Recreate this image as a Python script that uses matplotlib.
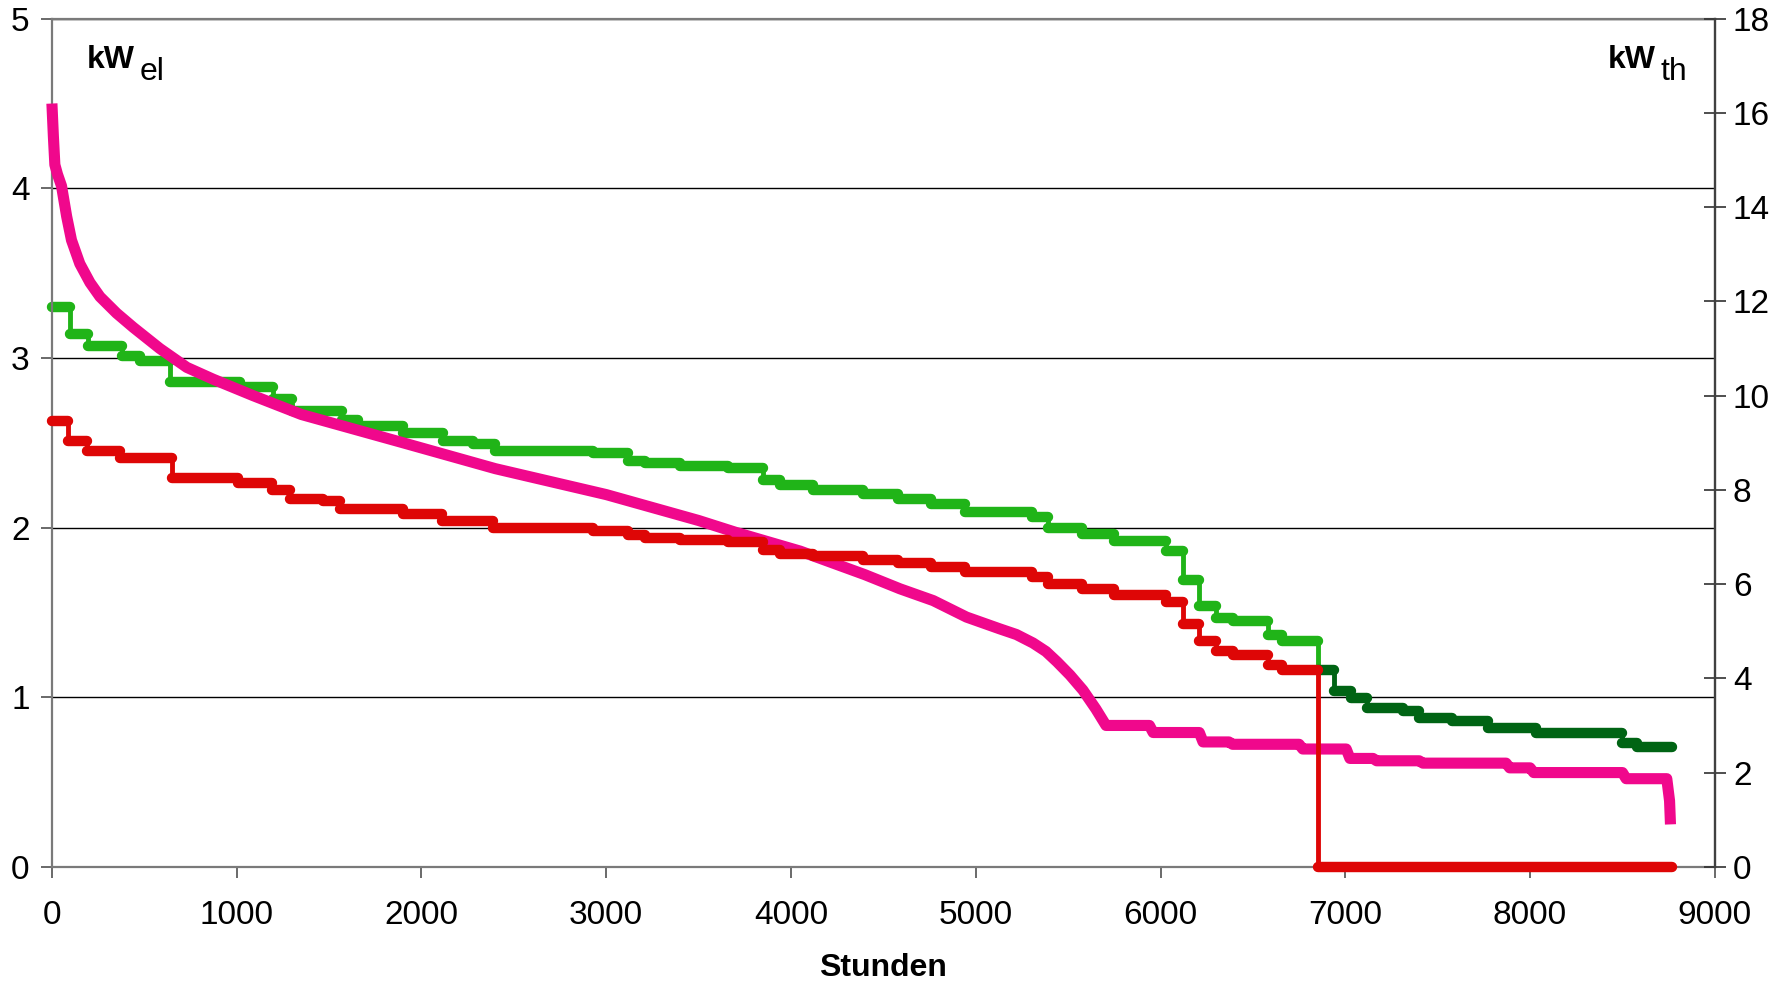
import matplotlib
matplotlib.use('Agg')
import matplotlib.pyplot as plt

# el. output, light green part (start hour of each level)
green_start = [0, 97, 195, 380, 475, 640, 1017, 1197, 1297, 1570, 1657, 1900, 2115, 2278,
               2397, 2927, 3116, 3208, 3397, 3657, 3847, 3938, 4118, 4388, 4577, 4760,
               4940, 5302, 5390, 5574, 5750, 6030, 6120, 6210, 6300, 6390, 6580, 6660]
green_kwel = [3.30, 3.14, 3.07, 3.01, 2.98, 2.86, 2.83, 2.76, 2.69, 2.635, 2.60, 2.56, 2.51, 2.495,
              2.45, 2.44, 2.395, 2.38, 2.365, 2.35, 2.28, 2.25, 2.22, 2.195, 2.17, 2.14,
              2.094, 2.06, 2.0, 1.965, 1.92, 1.86, 1.69, 1.54, 1.465, 1.447, 1.365, 1.33]

# el. output, dark green part
dgreen_start = [6850, 6940, 7030, 7120, 7310, 7400, 7580, 7770, 8030, 8500, 8580]
dgreen_kwel = [1.16, 1.035, 0.994, 0.935, 0.918, 0.876, 0.86, 0.818, 0.788, 0.73, 0.705]

# red series
red_start = [0, 87, 190, 368, 650, 1006, 1190, 1288, 1466, 1558, 1900, 2110, 2386, 2927,
             3117, 3208, 3397, 3657, 3847, 3938, 4118, 4388, 4577, 4760, 4940, 5302,
             5390, 5574, 5750, 6030, 6120, 6210, 6300, 6390, 6580, 6660, 6850]
red_kwel = [2.63, 2.51, 2.45, 2.41, 2.29, 2.265, 2.22, 2.17, 2.155, 2.11, 2.08, 2.04, 1.995, 1.98,
            1.955, 1.94, 1.925, 1.915, 1.865, 1.845, 1.83, 1.81, 1.79, 1.77, 1.74, 1.71,
            1.67, 1.64, 1.60, 1.56, 1.43, 1.33, 1.27, 1.25, 1.19, 1.16, 0.0]

LAST_HOUR = 8770

# heat demand (right axis)
mag_hours = [0, 8, 16, 30, 52, 80, 106, 151, 206, 260, 350, 440, 584, 730, 872, 1089, 1350,
             1900, 2400, 3000, 3500, 3700, 4050, 4400, 4590, 4770, 4950, 5130, 5220, 5310,
             5380, 5440, 5510, 5580, 5650, 5705, 5940, 5960, 6210, 6230, 6370, 6390, 6750,
             6770, 7005, 7025, 7150, 7170, 7400, 7420, 7870, 7890, 8000, 8020, 8500, 8520,
             8740, 8755, 8760]
mag_kwth = [16.2, 15.5, 14.9, 14.7, 14.45, 13.8, 13.3, 12.8, 12.4, 12.1, 11.75, 11.45, 11.0,
            10.6, 10.35, 10.0, 9.6, 9.0, 8.45, 7.9, 7.35, 7.1, 6.7, 6.2, 5.9, 5.65, 5.3,
            5.05, 4.93, 4.75, 4.57, 4.35, 4.07, 3.75, 3.35, 3.0, 3.0, 2.85, 2.85, 2.65,
            2.65, 2.6, 2.6, 2.5, 2.5, 2.3, 2.3, 2.25, 2.25, 2.2, 2.2, 2.1, 2.1, 2.0, 2.0,
            1.87, 1.87, 1.4, 0.9]

C_GREEN = '#20B418'
C_DGREEN = '#006414'
C_RED = '#DE0606'
C_MAG = '#F0088C'

plt.rcParams['font.family'] = ['Liberation Sans', 'DejaVu Sans']
FS = 24
FS_LBL = 23


def drawSteps(ax, starts, vals, end, color, next_val=None):
  ends = starts[1:] + [end]
  xs = starts + [end]
  ys = vals + [vals[-1]]
  if next_val is not None:
    xs = xs + [end]
    ys = ys + [next_val]
  ax.step(xs, ys, where='post', color=color, lw=3.5, clip_on=False)
  ax.hlines(vals, starts, ends, colors=color, lw=7.5, capstyle='round', clip_on=False)


fig = plt.figure(figsize=(17.9, 9.85), dpi=100)
ax = fig.add_axes([0.029, 0.12, 0.929, 0.861])

ax.set_xlim(0, 9000)
ax.set_ylim(0, 5)
ax.set_xticks(range(0, 9001, 1000))
ax.set_yticks(range(0, 6))
ax.yaxis.grid(True, color='#000000', lw=1.0)
ax.set_axisbelow(True)
for s in ax.spines.values():
  s.set_color('#7a7a7a')
  s.set_linewidth(1.6)
ax.tick_params(axis='both', labelsize=FS, direction='out', length=8, width=1.2, color='#505050')
ax.tick_params(axis='x', pad=16)
ax.tick_params(axis='y', pad=8)
ax.set_xlabel('Stunden', fontsize=FS_LBL, fontweight='bold', labelpad=16)

drawSteps(ax, green_start, green_kwel, dgreen_start[0], C_GREEN, next_val=dgreen_kwel[0])
drawSteps(ax, dgreen_start, dgreen_kwel, LAST_HOUR, C_DGREEN)

# right axis, thermal
ax2 = ax.twinx()
ax2.set_ylim(0, 18)
ax2.set_yticks(range(0, 19, 2))
ax2.tick_params(axis='y', labelsize=FS, direction='inout', length=16, width=1.2,
                color='#303030', pad=5)
ax2.spines['right'].set_color('#404040')
ax2.spines['right'].set_linewidth(1.6)
for k in ['left', 'top', 'bottom']:
  ax2.spines[k].set_visible(False)
ax2.plot(mag_hours, mag_kwth, color=C_MAG, lw=8, solid_joinstyle='round',
         solid_capstyle='butt', clip_on=False)

# red on top
ax3 = ax.twinx()
ax3.set_ylim(0, 5)
ax3.axis('off')
drawSteps(ax3, red_start, red_kwel, LAST_HOUR, C_RED)

ax.text(0.021, 0.942, 'kW', transform=ax.transAxes, fontsize=FS_LBL, fontweight='bold',
        ha='left', va='baseline')
ax.text(0.053, 0.928, 'el', transform=ax.transAxes, fontsize=FS_LBL, ha='left', va='baseline')
ax.text(0.9357, 0.942, 'kW', transform=ax.transAxes, fontsize=FS_LBL, fontweight='bold',
        ha='left', va='baseline')
ax.text(0.9675, 0.928, 'th', transform=ax.transAxes, fontsize=FS_LBL, ha='left', va='baseline')

fig.savefig('out.png', dpi=100)
